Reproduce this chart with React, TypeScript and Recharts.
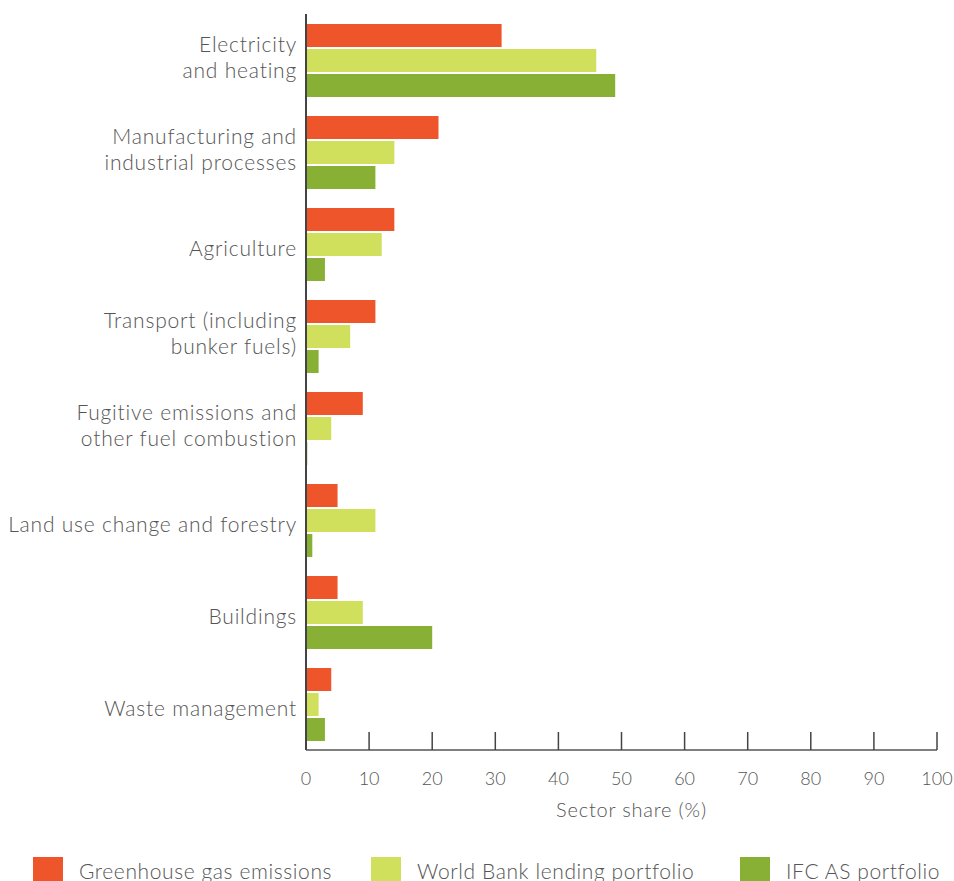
import React from "react";
import { BarChart, Bar, XAxis, YAxis } from "recharts";

const categories = [
  "Electricity\nand heating",
  "Manufacturing and\nindustrial processes",
  "Agriculture",
  "Transport (including\nbunker fuels)",
  "Fugitive emissions and\nother fuel combustion",
  "Land use change and forestry",
  "Buildings",
  "Waste management",
];
const ghgEmissions = [31, 21, 14, 11, 9, 5, 5, 4];
const worldBankLending = [46, 14, 12, 7, 4, 11, 9, 2];
const ifcPortfolio = [49, 11, 3, 2, 0.2, 1, 20, 3];
const xTicks = [0, 10, 20, 30, 40, 50, 60, 70, 80, 90, 100];

const seriesNames = ["Greenhouse gas emissions", "World Bank lending portfolio", "IFC AS portfolio"];
const colors = ["#EE552A", "#D0DF5C", "#88B034"];

const data = categories.map((name, i) => ({
  name,
  ghg: ghgEmissions[i],
  wb: worldBankLending[i],
  ifc: ifcPortfolio[i],
}));

const FONT = "Lato, 'Open Sans', sans-serif";
const TEXT = "#555";

function CategoryTick({ x, y, payload }: any) {
  const lines = String(payload.value).split("\n");
  const lh = 26;
  const shift = lines.length === 1 ? 7 : 0;
  const startY = y + shift - ((lines.length - 1) * lh) / 2;
  return (
    <text
      x={x}
      y={startY}
      textAnchor="end"
      fill={TEXT}
      fontSize={21}
      fontWeight={300}
      fontFamily={FONT}
      letterSpacing={0.8}
      dominantBaseline="middle"
    >
      {lines.map((l, i) => (
        <tspan key={i} x={x} y={startY + i * lh}>
          {l}
        </tspan>
      ))}
    </text>
  );
}

function ValueTick({ x, y, payload }: any) {
  const axisY = y - 22;
  return (
    <g>
      <line x1={x} x2={x} y1={axisY - 18} y2={axisY} stroke="#444" strokeWidth={1.5} />
      <text x={x} y={y} dy="0.71em" textAnchor="middle" fill={TEXT} fontSize={18} fontWeight={300} fontFamily={FONT}>
        {payload.value}
      </text>
    </g>
  );
}

export default function App() {
  return (
    <div style={{ position: "absolute", left: 0, top: 0, width: 954, height: 881, background: "#fff", overflow: "hidden" }}>
      <BarChart
        width={954}
        height={881}
        data={data}
        layout="vertical"
        margin={{ top: 14, right: 17, bottom: 61, left: 0 }}
        barGap={2}
        barSize={23}
      >
        <XAxis
          type="number"
          domain={[0, 100]}
          ticks={xTicks}
          interval={0}
          height={70}
          tickSize={0}
          tickMargin={22}
          tickLine={false}
          stroke="#555"
          strokeWidth={1.5}
          tick={<ValueTick />}
          label={{
            value: "Sector share (%)",
            position: "insideBottom",
            offset: 3,
            dx: 10,
            fill: TEXT,
            fontSize: 20,
            fontWeight: 300,
            fontFamily: FONT,
            letterSpacing: 0.8,
          }}
        />
        <YAxis
          type="category"
          dataKey="name"
          width={306}
          tickLine={false}
          tickSize={0}
          tickMargin={9}
          stroke="#444"
          strokeWidth={2}
          interval={0}
          tick={<CategoryTick />}
        />
        <Bar dataKey="ghg" name={seriesNames[0]} fill={colors[0]} isAnimationActive={false} />
        <Bar dataKey="wb" name={seriesNames[1]} fill={colors[1]} isAnimationActive={false} />
        <Bar dataKey="ifc" name={seriesNames[2]} fill={colors[2]} isAnimationActive={false} />
      </BarChart>
      {[33, 371, 740].map((left, i) => (
        <div key={i} style={{ position: "absolute", left, top: 857, display: "flex", alignItems: "flex-start" }}>
          <div style={{ width: 30, height: 26, background: colors[i] }} />
          <span
            style={{
              marginLeft: 16,
              fontFamily: FONT,
              fontWeight: 300,
              fontSize: 21,
              letterSpacing: 0.6,
              color: TEXT,
              lineHeight: "28px",
              whiteSpace: "nowrap",
            }}
          >
            {seriesNames[i]}
          </span>
        </div>
      ))}
    </div>
  );
}
